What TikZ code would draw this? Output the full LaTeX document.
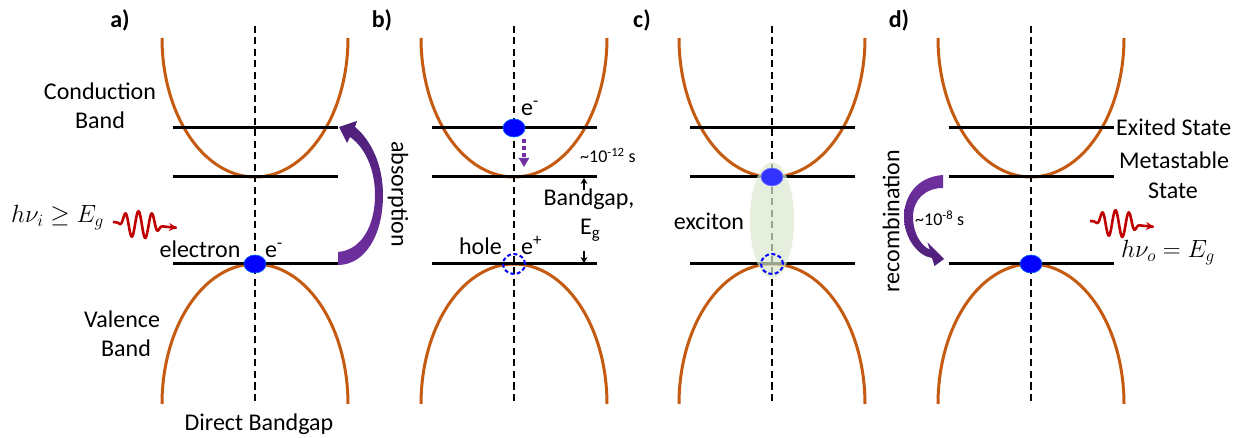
\documentclass[tikz,border=0pt]{standalone}
\usepackage{fontspec}
\setmainfont{Carlito}
\usetikzlibrary{arrows.meta,shapes.geometric}
\definecolor{bandorange}{HTML}{C55A11}
\definecolor{arrpurple}{HTML}{7030A0}
\definecolor{darkpurple}{HTML}{4E1F78}
\definecolor{wavered}{HTML}{C00000}
\definecolor{excgreen}{HTML}{DCE9D0}
\newcommand\mywave{%
  \draw[wave] plot[domain=0:64, samples=160]
    ({\x}, {6*\x/67 - 13*exp(-min(pow((\x-27)*(\x-27)/324,3),9))*cos((\x-12)*26.67)});}
\begin{document}
\begin{tikzpicture}[x=1pt,y=-1pt,
  band/.style={draw=bandorange, line width=3pt},
  level/.style={draw=black, line width=3pt},
  axis/.style={draw=black, line width=1.6pt, dash pattern=on 7pt off 4.5pt},
  txt/.style={font=\fontsize{24}{28}\selectfont, inner sep=0pt},
  smalltxt/.style={font=\fontsize{18}{20}\selectfont, inner sep=0pt},
  mathtxt/.style={font=\fontsize{26}{30}\selectfont, inner sep=0pt},
  paneltxt/.style={font=\fontsize{24}{28}\selectfont\bfseries, inner sep=0pt},
  electron/.style={ellipse, fill=blue, draw=blue!60!cyan, line width=0.6pt, minimum width=22pt, minimum height=18pt, inner sep=0pt},
  hole/.style={ellipse, draw=blue, line width=2pt, dash pattern=on 4pt off 2.5pt, minimum width=22pt, minimum height=20pt, inner sep=0pt},
  wave/.style={draw=wavered, line width=2.6pt, -{Stealth[length=8pt,width=8pt]}},
  gaparrow/.style={draw=black, line width=1.2pt, -{Stealth[length=6pt,width=7pt]}},
  relax/.style={draw=arrpurple, line width=3.5pt, dash pattern=on 4pt off 3pt, -{Triangle[length=9pt,width=10pt]}}
]
\useasboundingbox[fill=white] (0,0) rectangle (1251,438);

% band structure panels
\foreach \c in {255,514,772,1031}{
  \draw[band] plot[domain=0:180, samples=90] ({\c+93*cos(\x)},{38+139*sin(\x)});
  \draw[band] plot[domain=0:180, samples=90] ({\c+93*cos(\x)},{404-140*sin(\x)});
  \draw[level] (\c-82,128) -- (\c+83,128);
  \draw[level] (\c-82,177) -- (\c+83,177);
  \draw[level] (\c-82,264) -- (\c+83,264);
  \draw[axis] (\c,26) -- (\c,405);
}

% panel labels
\node[paneltxt, anchor=base] (la) at (120,28) {a)};
\node[paneltxt, anchor=base] (lb) at (382,28) {b)};
\node[paneltxt, anchor=base] (lc) at (642,28) {c)};
\node[paneltxt, anchor=base] (ld) at (899,28) {d)};

% ---------- panel a ----------
\node[txt, anchor=base] (cond1) at (100,100) {Conduction};
\node[txt, anchor=base] (cond2) at (100,129) {Band};
\node[txt, anchor=base] (val1) at (122,328) {Valence};
\node[txt, anchor=base] (val2) at (126,357) {Band};
\node[txt, anchor=base] (direct) at (259,431) {Direct Bandgap};
\node[mathtxt, anchor=base west] (hvi) at (11,223) {$h\nu_i \geq E_g$};
\begin{scope}[shift={(113,222)}]\mywave\end{scope}
\node[txt, anchor=base] (elab) at (200,258) {electron};
\node[txt, anchor=base west] (ema) at (265,258) {e\textsuperscript{-}};
\node[electron] (ea) at (255,264) {};
\shade[top color=darkpurple, bottom color=arrpurple]
  (338,252) .. controls (362,250) and (375,225) .. (375,195)
  .. controls (375,165) and (362,145) .. (350,137)
  -- (347,143) -- (339,127) -- (357,121) -- (355,127)
  .. controls (371,140) and (383,165) .. (383,195)
  .. controls (383,235) and (365,265) .. (338,265) -- cycle;
\node[txt, rotate=-90] (absn) at (398,194) {absorption};

% ---------- panel b ----------
\node[electron] (eb) at (514,128) {};
\node[txt, anchor=base west] (emb) at (521,116) {e\textsuperscript{-}};
\coordinate (rs) at (524,139);
\coordinate (re) at (524,167);
\draw[relax] (rs) -- (re);
\node[smalltxt, anchor=base west] (t12) at (580,163) {\textasciitilde10\textsuperscript{-12} s};
\coordinate (gu1) at (584,190);
\coordinate (gu2) at (584,178);
\coordinate (gd1) at (584,251);
\coordinate (gd2) at (584,263);
\draw[gaparrow] (gu1) -- (gu2);
\draw[gaparrow] (gd1) -- (gd2);
\node[txt, anchor=base] (bg) at (589,206) {Bandgap,};
\node[txt, anchor=base west] (eg) at (580,235) {E\textsubscript{g}};
\node[txt, anchor=base east] (holelab) at (502,255) {hole};
\node[txt, anchor=base west] (epb) at (521,255) {e\textsuperscript{+}};
\node[hole] (hb) at (514,264) {};

% ---------- panel c ----------
\fill[excgreen, opacity=0.7] (772,220) ellipse[x radius=22, y radius=58];
\node[electron, fill=blue!80, draw=blue!50] (ec) at (772,177) {};
\node[hole] (hc) at (772,264) {};
\node[txt, anchor=base] (exc) at (709,230) {exciton};

% ---------- panel d ----------
\node[electron] (ed) at (1031,264) {};
\node[txt, anchor=base west] (exs) at (1116,136) {Exited State};
\node[txt, anchor=base] (meta1) at (1174,169) {Metastable};
\node[txt, anchor=base] (meta2) at (1173,199) {State};
\shade[top color=arrpurple, bottom color=darkpurple]
  (943,175) .. controls (916,177) and (904,197) .. (904,217)
  .. controls (904,238) and (918,256) .. (932,258)
  -- (934.5,266) -- (944,259) -- (927.5,242.5) -- (929.7,249.7)
  .. controls (920,245) and (913,232) .. (913,217)
  .. controls (913,200) and (925,188) .. (943,188) -- cycle;
\node[txt, rotate=90] (recomb) at (891,221) {recombination};
\node[smalltxt, anchor=base west] (t8) at (915,226) {\textasciitilde10\textsuperscript{-8} s};
\begin{scope}[shift={(1090,221)}]\mywave\end{scope}
\node[mathtxt, anchor=base west] (hvo) at (1121,258) {$h\nu_o = E_g$};
\end{tikzpicture}
\end{document}
